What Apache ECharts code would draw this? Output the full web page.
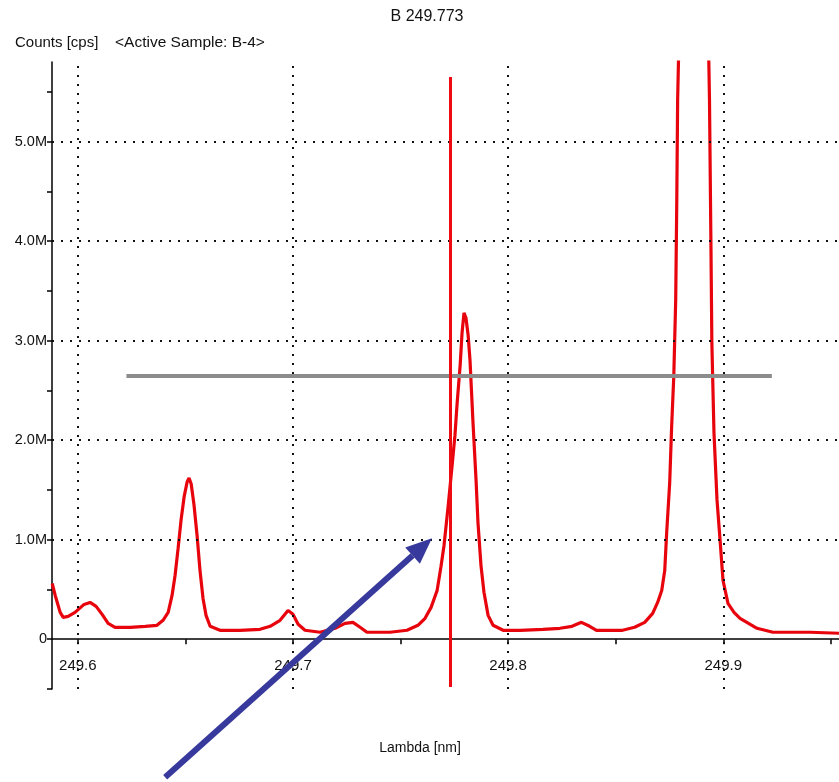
<!DOCTYPE html>
<html>
<head>
<meta charset="utf-8">
<title>B 249.773</title>
<script src="https://cdn.jsdelivr.net/npm/echarts@6/dist/echarts.min.js"></script>
<style>
  html, body { margin: 0; padding: 0; background: #fff; }
  #chart { width: 839px; height: 782px; }
</style>
</head>
<body>
<div id="chart"></div>
<script>
// spectrum trace (lambda in nm, counts in M cps)
const lambda = [
  249.5881, 249.5895, 249.5918, 249.5932, 249.5955, 249.5987, 249.6029, 249.6057, 249.6085, 249.6113,
  249.6141, 249.6173, 249.6243, 249.6313, 249.6368, 249.6396, 249.6420, 249.6438, 249.6452, 249.6466,
  249.6480, 249.6494, 249.6508, 249.6517, 249.6527, 249.6540, 249.6554, 249.6568, 249.6582, 249.6596,
  249.6615, 249.6661, 249.6754, 249.6847, 249.6894, 249.6940, 249.6977, 249.7000, 249.7024, 249.7056,
  249.7126, 249.7196, 249.7242, 249.7279, 249.7312, 249.7344, 249.7451, 249.7530, 249.7581, 249.7614,
  249.7642, 249.7670, 249.7688, 249.7702, 249.7721, 249.7739, 249.7753, 249.7763, 249.7777, 249.7786,
  249.7795, 249.7804, 249.7814, 249.7823, 249.7837, 249.7851, 249.7860, 249.7874, 249.7888, 249.7907,
  249.7930, 249.7977, 249.8056, 249.8162, 249.8241, 249.8297, 249.8341, 249.8379, 249.8411, 249.8532,
  249.8588, 249.8635, 249.8672, 249.8695, 249.8714, 249.8728, 249.8737, 249.8751, 249.8760, 249.8770,
  249.8779, 249.8784, 249.8788, 249.8798, 249.8863, 249.8928, 249.8936, 249.8943, 249.8947, 249.8957,
  249.8971, 249.8985, 249.8999, 249.9022, 249.9050, 249.9078, 249.9157, 249.9231, 249.9403, 249.9538
];
const counts = [
  0.56, 0.44, 0.27, 0.22, 0.23, 0.27, 0.35, 0.37, 0.33, 0.25,
  0.16, 0.12, 0.12, 0.13, 0.14, 0.19, 0.27, 0.44, 0.64, 0.91,
  1.20, 1.43, 1.58, 1.62, 1.56, 1.35, 1.05, 0.69, 0.41, 0.24,
  0.13, 0.09, 0.09, 0.10, 0.13, 0.19, 0.29, 0.25, 0.15, 0.09,
  0.07, 0.11, 0.16, 0.17, 0.12, 0.07, 0.07, 0.09, 0.14, 0.21,
  0.32, 0.49, 0.73, 0.94, 1.33, 1.73, 2.05, 2.37, 2.75, 3.08,
  3.28, 3.23, 3.06, 2.80, 2.17, 1.60, 1.17, 0.74, 0.47, 0.24,
  0.14, 0.09, 0.09, 0.10, 0.11, 0.13, 0.17, 0.13, 0.09, 0.09,
  0.12, 0.17, 0.26, 0.37, 0.49, 0.69, 1.07, 1.57, 2.13, 2.64,
  3.41, 4.41, 5.42, 6.42, 9.00, 6.42, 5.42, 3.91, 2.98, 2.07,
  1.40, 1.00, 0.59, 0.36, 0.27, 0.21, 0.11, 0.07, 0.07, 0.06
];

const xTickValues = [249.6, 249.65, 249.7, 249.75, 249.8, 249.85, 249.9, 249.95];
const xLabelValues = [249.6, 249.7, 249.8, 249.9];
const yTickValues = [-0.5, 0, 0.5, 1, 1.5, 2, 2.5, 3, 3.5, 4, 4.5, 5, 5.5];
const yLabelValues = [0, 1, 2, 3, 4, 5];

// annotations
const activeLambda = 249.773;
const activeSpan = [-0.48, 5.65];
const thresholdValue = 2.646;
const thresholdSpan = [249.6226, 249.9226];
const arrowFrom = [249.6406, -1.387];
const arrowTo = [249.7646, 1.015];

const font = "'Liberation Sans', Arial, sans-serif";
const dotted = { color: '#111', width: 2, type: [2, 7] };

const chart = echarts.init(document.getElementById('chart'));

const gridLines = [];
xLabelValues.forEach(v => gridLines.push({ xAxis: v }));
yLabelValues.filter(v => v > 0).forEach(v => gridLines.push({ yAxis: v }));

const option = {
  animation: false,
  backgroundColor: '#fff',
  textStyle: { fontFamily: font },
  grid: { left: 52, right: 0, top: 62, bottom: 93, containLabel: false },
  xAxis: {
    type: 'value',
    min: 249.588,
    max: 249.9538,
    axisLine: { onZero: true, lineStyle: { color: '#000', width: 1.5 } },
    axisTick: { customValues: xTickValues, length: 5, lineStyle: { color: '#000', width: 1.5 } },
    axisLabel: {
      customValues: xLabelValues,
      margin: -31,
      color: '#111',
      fontSize: 15,
      fontFamily: font,
      formatter: v => v.toFixed(1)
    },
    splitLine: { show: false }
  },
  yAxis: {
    type: 'value',
    min: -0.5,
    max: 5.8,
    axisLine: { show: true, onZero: false, lineStyle: { color: '#000', width: 1.5 } },
    axisTick: { show: true, customValues: yTickValues, length: 5, lineStyle: { color: '#000', width: 1.5 } },
    axisLabel: {
      customValues: yLabelValues,
      margin: 5,
      color: '#111',
      fontSize: 14.5,
      fontFamily: font,
      formatter: v => (v === 0 ? '0' : v.toFixed(1) + 'M')
    },
    splitLine: { show: false }
  },
  series: [
    {
      // dotted grid
      type: 'line',
      data: [],
      z: 1,
      silent: true,
      markLine: {
        silent: true,
        symbol: 'none',
        label: { show: false },
        lineStyle: dotted,
        emphasis: { disabled: true },
        data: gridLines
      }
    },
    {
      name: 'threshold',
      type: 'line',
      data: [],
      z: 2,
      markLine: {
        silent: true,
        symbol: 'none',
        label: { show: false },
        emphasis: { disabled: true },
        lineStyle: { color: '#8c8c8c', width: 4, type: 'solid' },
        data: [[
          { coord: [thresholdSpan[0], thresholdValue] },
          { coord: [thresholdSpan[1], thresholdValue] }
        ]]
      }
    },
    {
      name: 'B-4',
      type: 'line',
      z: 3,
      data: lambda.map((x, i) => [x, counts[i]]),
      showSymbol: false,
      symbol: 'none',
      clip: true,
      lineStyle: { color: '#e8040c', width: 3.2 },
      markLine: {
        silent: true,
        symbol: 'none',
        label: { show: false },
        emphasis: { disabled: true },
        lineStyle: { color: '#ee0a10', width: 3, type: 'solid' },
        data: [[
          { coord: [activeLambda, activeSpan[0]] },
          { coord: [activeLambda, activeSpan[1]] }
        ]]
      }
    }
  ]
};

chart.setOption(option);

// pointer arrow placed through the axes' scale
const p0 = chart.convertToPixel({ gridIndex: 0 }, arrowFrom);
const p1 = chart.convertToPixel({ gridIndex: 0 }, arrowTo);
const dx = p1[0] - p0[0], dy = p1[1] - p0[1];
const len = Math.sqrt(dx * dx + dy * dy);
const ux = dx / len, uy = dy / len;
const nx = -uy, ny = ux;
const headLen = 26, headHalf = 11;
const bx = p1[0] - ux * headLen, by = p1[1] - uy * headLen;

chart.setOption({
  graphic: [
    {
      id: 'title', type: 'text', x: 427, y: 17,
      style: { text: 'B 249.773', font: '16px ' + font, fill: '#111', align: 'center', verticalAlign: 'middle' }
    },
    {
      id: 'yname', type: 'text', x: 15, y: 43,
      style: { text: 'Counts [cps]', font: '15px ' + font, fill: '#111', align: 'left', verticalAlign: 'middle' }
    },
    {
      id: 'sample', type: 'text', x: 115, y: 43,
      style: { text: '<Active Sample: B-4>', font: '15.5px ' + font, fill: '#111', align: 'left', verticalAlign: 'middle' }
    },
    {
      id: 'xname', type: 'text', x: 420, y: 748,
      style: { text: 'Lambda [nm]', font: '14px ' + font, fill: '#111', align: 'center', verticalAlign: 'middle' }
    },
    {
      id: 'arrowShaft', type: 'line', z: 10,
      shape: { x1: p0[0], y1: p0[1], x2: bx, y2: by },
      style: { stroke: '#373a9c', lineWidth: 6 }
    },
    {
      id: 'arrowHead', type: 'polygon', z: 10,
      shape: { points: [[p1[0], p1[1]], [bx + nx * headHalf, by + ny * headHalf], [bx - nx * headHalf, by - ny * headHalf]] },
      style: { fill: '#373a9c' }
    }
  ]
});
</script>
</body>
</html>
